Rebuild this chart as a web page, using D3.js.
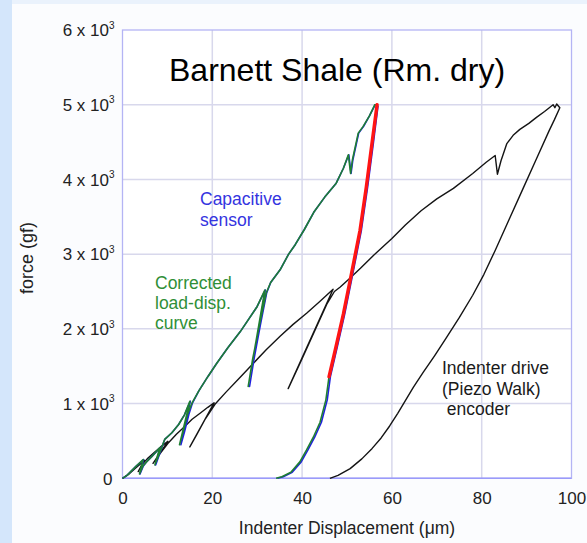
<!DOCTYPE html>
<html>
<head>
<meta charset="utf-8">
<script src="https://cdn.jsdelivr.net/npm/d3@7"></script>
<style>
  body { margin: 0; background: #fbfcfe; }
  text { font-family: "Liberation Sans", Arial, sans-serif; }
</style>
</head>
<body>
<div id="mainDiv"></div>
<script>
'use strict';

// displacement (um), force (gf)
var encoderCurve = [
  [0,0],[1.5,60],[3,140],[4.9,240],[3.5,90],[4.3,180],[5.5,260],[7,340],[8.5,420],[10.1,495],
  [6.8,200],[8.5,340],[10.3,480],[12,590],[13.8,690],[15.5,790],[17.5,880],[19,950],[20.4,1010],
  [15,420],[16.5,580],[18.5,800],[20.6,990],[23,1150],[26,1340],[29,1530],[32,1720],[35.1,1900],
  [38,2060],[41,2210],[44,2370],[46.9,2530],[36.9,1200],[40,1600],[43,2000],[45.5,2330],[47.2,2500],
  [48.5,2560],[50.7,2680],[53,2810],[56,2990],[60,3210],[63,3390],[66.5,3580],[70,3740],[73.7,3880],
  [78,4080],[81,4230],[83,4320],[83.5,4070],[84.3,4250],[85.6,4480],[87,4590],[88.5,4670],[90.5,4750],
  [92.2,4830],[94,4910],[95.9,5000],[96.3,4960],[96.7,5010],[97.4,4960],[96.2,4800],[95,4650],
  [92,4250],[89,3850],[86,3450],[83,3050],[80.5,2730],[78,2450],[75,2150],[72,1870],[69.5,1640],
  [67,1420],[64.8,1220],[63,1040],[61.3,870],[59.5,700],[57.6,540],[55.6,400],[53.3,260],
  [50.7,130],[48,40],[46.2,0]
];

var capacitiveCurve = [
  [0,0],[1,40],[2,100],[3,160],[4.7,250],[3.9,60],[4.6,160],[5.5,230],[6.5,290],[8.4,410],
  [7.4,180],[8.1,300],[9.4,520],[11,610],[12.5,720],[13.8,850],[15.1,1030],[13,450],[13.8,620],
  [14.8,860],[15.6,1010],[17,1170],[19,1360],[21,1540],[23.5,1750],[26.2,1960],[28,2120],[30,2300],
  [31.8,2520],[28.3,1230],[29.3,1600],[30.7,2050],[32.1,2480],[33,2620],[35.1,2790],[37,3000],
  [38.5,3130],[40.5,3330],[42.6,3560],[45,3760],[47.6,3950],[49.2,4150],[50.4,4330],[50.9,4080],
  [51.3,4260],[52.6,4620],[53.7,4710],[55,4850],[56.3,5000],[56.9,4980],[55.9,4500],[54.6,3900],
  [53.2,3320],[51.3,2740],[49.5,2200],[47.8,1750],[46.3,1360],[45.6,1050],[44.3,750],[42.8,550],
  [41.3,380],[39.8,220],[37.8,80],[35.8,20],[34.5,0]
];

var correctedCurve = [
  [0,0],[1,40],[2,100],[3,160],[4.6,250],[3.8,60],[4.5,160],[5.5,230],[6.5,290],[8.3,410],
  [7.2,180],[8,300],[9.4,520],[11,610],[12.5,720],[13.8,850],[15,1030],[12.7,450],[13.5,620],
  [14.5,860],[15.5,1010],[17,1170],[19,1360],[21,1540],[23.5,1750],[26.2,1960],[28,2120],[30,2300],
  [31.7,2520],[28,1230],[29,1600],[30.5,2050],[32,2480],[33,2620],[35.1,2790],[37,3000],
  [38.5,3130],[40.5,3330],[42.6,3560],[45,3760],[47.6,3950],[49.2,4150],[50.3,4330],[50.8,4080],
  [51.2,4260],[52.5,4620],[53.6,4710],[55,4850],[56.2,5000],[56.6,4980],[55.6,4500],[54.3,3900],
  [52.9,3320],[51,2740],[49.2,2200],[47.5,1750],[46,1360],[45.3,1050],[44,750],[42.5,550],
  [41,380],[39.5,220],[37.5,80],[35.5,20],[34.2,0]
];

// fitted unloading segment
var unloadFit = [
  [56.7,5000],[55.6,4500],[54.3,3900],[52.9,3320],[51,2740],[49.2,2200],[47.5,1750],[46,1360]
];

var xTicks = [0, 20, 40, 60, 80, 100];
var yTicks = [0, 1000, 2000, 3000, 4000, 5000, 6000];
var yTickMantissa = ['0', '1', '2', '3', '4', '5', '6'];

var chart = {};

chart.width = 587;
chart.height = 543;
chart.margins = {top: 30, left: 122.5, right: 15.5, bottom: 64.7};
chart.w = chart.width - chart.margins.left - chart.margins.right;
chart.h = chart.height - chart.margins.top - chart.margins.bottom;

chart.xScale = d3.scaleLinear().domain([0, 100]).range([0, chart.w]);
chart.yScale = d3.scaleLinear().domain([0, 6000]).range([chart.h, 0]);

chart.appendSvg = function(div)
{
    var svg = d3.select(div).append('svg')
        .attr('width', chart.width)
        .attr('height', chart.height);

    // slide background
    svg.append('rect').attr('width', chart.width).attr('height', chart.height).attr('fill', '#fbfcfe');
    svg.append('rect').attr('width', chart.width).attr('height', 4).attr('fill', '#eaf2fc');
    svg.append('rect').attr('width', 12).attr('height', chart.height).attr('fill', '#d4e6fb');

    return svg;
}

chart.appendGrid = function(g)
{
    g.append('rect')
        .attr('width', chart.w)
        .attr('height', chart.h)
        .attr('fill', '#ffffff');

    g.selectAll('.vgrid')
        .data(xTicks.slice(1, -1))
        .enter().append('line')
        .attr('x1', function(d) { return chart.xScale(d); })
        .attr('x2', function(d) { return chart.xScale(d); })
        .attr('y1', 0)
        .attr('y2', chart.h)
        .attr('stroke', '#d8d8ec')
        .attr('stroke-width', 1.5);

    g.selectAll('.hgrid')
        .data(yTicks.slice(1, -1))
        .enter().append('line')
        .attr('x1', 0)
        .attr('x2', chart.w)
        .attr('y1', function(d) { return chart.yScale(d); })
        .attr('y2', function(d) { return chart.yScale(d); })
        .attr('stroke', '#d8d8ec')
        .attr('stroke-width', 1.5);

    g.append('rect')
        .attr('width', chart.w)
        .attr('height', chart.h)
        .attr('fill', 'none')
        .attr('stroke', '#b4b4f4')
        .attr('stroke-width', 1.3);

    g.append('line')
        .attr('x1', 0).attr('x2', chart.w)
        .attr('y1', chart.h).attr('y2', chart.h)
        .attr('stroke', '#9a9afa')
        .attr('stroke-width', 1.5);
}

chart.appendAxes = function(g)
{
    var xAxis = d3.axisBottom(chart.xScale).tickValues(xTicks).tickSize(0).tickPadding(14);
    var xg = g.append('g')
        .attr('transform', 'translate(0,' + chart.h + ')')
        .call(xAxis);
    xg.select('.domain').remove();
    xg.selectAll('text').attr('font-size', 17).attr('fill', '#222');

    var yAxis = d3.axisLeft(chart.yScale).tickValues(yTicks).tickSize(0).tickPadding(9).tickFormat('');
    var yg = g.append('g').call(yAxis);
    yg.select('.domain').remove();

    yg.selectAll('.tick').each(function(d, i) {
        var t = d3.select(this).append('text')
            .attr('x', d === 0 ? -10 : -8)
            .attr('dy', '0.34em')
            .attr('text-anchor', 'end')
            .attr('font-size', 17)
            .attr('fill', '#222');
        if (d === 0) {
            t.text(yTickMantissa[i]);
        } else {
            t.append('tspan').text(yTickMantissa[i] + ' x 10');
            t.append('tspan').attr('font-size', 10).attr('dy', '-0.75em').text('3');
        }
    });
}

chart.appendLines = function(g)
{
    var line = d3.line()
        .x(function(d) { return chart.xScale(d[0]); })
        .y(function(d) { return chart.yScale(d[1]); });

    g.append('path').datum(encoderCurve)
        .attr('fill', 'none').attr('stroke', '#141414').attr('stroke-width', 1.4)
        .attr('stroke-linejoin', 'round').attr('d', line);

    g.append('path').datum(capacitiveCurve)
        .attr('fill', 'none').attr('stroke', '#2020e0').attr('stroke-width', 1.6)
        .attr('stroke-linejoin', 'round').attr('d', line);

    g.append('path').datum(correctedCurve)
        .attr('fill', 'none').attr('stroke', '#1f7f33').attr('stroke-width', 1.6)
        .attr('stroke-linejoin', 'round').attr('d', line);

    g.append('path').datum(unloadFit)
        .attr('fill', 'none').attr('stroke', '#ff1414').attr('stroke-width', 3.4)
        .attr('stroke-linecap', 'round').attr('d', line);
}

chart.appendLabels = function(svg)
{
    svg.append('text')
        .attr('x', 169).attr('y', 81)
        .attr('font-size', 32)
        .attr('fill', '#000')
        .text('Barnett Shale (Rm. dry)');

    var notes = [
        {lines: ['Capacitive', 'sensor'], x: 200, y: 205, color: '#3434e0', dy: 21},
        {lines: ['Corrected', 'load-disp.', 'curve'], x: 155, y: 289, color: '#2f8f37', dy: 20},
        {lines: ['Indenter drive', '(Piezo Walk)', ' encoder'], x: 442, y: 374, color: '#1a1a1a', dy: 20.5}
    ];

    notes.forEach(function(n) {
        var t = svg.append('text')
            .attr('x', n.x).attr('y', n.y)
            .attr('font-size', 17.5)
            .attr('fill', n.color)
            .attr('xml:space', 'preserve');
        n.lines.forEach(function(s, i) {
            t.append('tspan').attr('x', n.x).attr('dy', i === 0 ? 0 : n.dy).text(s);
        });
    });

    svg.append('text')
        .attr('x', chart.margins.left + chart.w / 2).attr('y', 534)
        .attr('text-anchor', 'middle')
        .attr('font-size', 17.5)
        .attr('fill', '#222')
        .text('Indenter Displacement (\u03bcm)');

    svg.append('text')
        .attr('transform', 'translate(33,258) rotate(-90)')
        .attr('text-anchor', 'middle')
        .attr('font-size', 18)
        .attr('fill', '#222')
        .text('force (gf)');
}

chart.run = function()
{
    var svg = chart.appendSvg('#mainDiv');
    var g = svg.append('g')
        .attr('transform', 'translate(' + chart.margins.left + ',' + chart.margins.top + ')');

    chart.appendGrid(g);
    chart.appendAxes(g);
    chart.appendLines(g);
    chart.appendLabels(svg);
}

window.onload = chart.run;
</script>
</body>
</html>
